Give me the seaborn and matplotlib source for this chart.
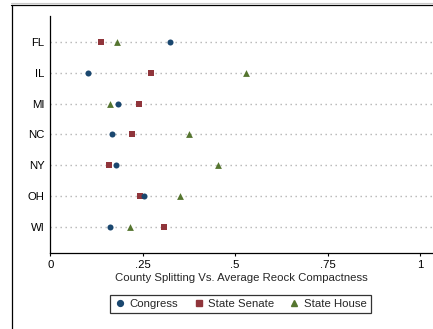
import matplotlib
matplotlib.use("Agg")
import matplotlib.pyplot as plt
from matplotlib.lines import Line2D
import pandas as pd
import seaborn as sns

states = ["FL", "IL", "MI", "NC", "NY", "OH", "WI"]
congress = [0.324, 0.101, 0.182, 0.166, 0.178, 0.253, 0.162]
state_senate = [0.136, 0.272, 0.240, 0.221, 0.159, 0.243, 0.307]
state_house = [0.180, 0.528, 0.162, 0.374, 0.454, 0.351, 0.215]

xticks = [0, 0.25, 0.5, 0.75, 1]
xtick_labels = ["0", ".25", ".5", ".75", "1"]

series = [
    ("State Senate", state_senate, "s", "#90353b", 20),
    ("State House", state_house, "^", "#55752f", 24),
    ("Congress", congress, "o", "#1a476f", 19),
]

sns.set_style("white")
plt.rcParams["font.family"] = ["Liberation Sans", "DejaVu Sans"]
FS = 8.2

fig = plt.figure(figsize=(4.33, 3.29), dpi=100)
ax = fig.add_axes([50.3 / 433, 75.7 / 329, (433 - 50.3) / 433, 237.6 / 329])

# dotted guide line for each state
for i in range(len(states)):
    ax.axhline(i, color="#b4b4b4", lw=1.0, ls=(0, (1, 2.6)), zorder=1)

for name, vals, mk, col, sz in series:
    df = pd.DataFrame({"state": states, "value": vals})
    sns.scatterplot(data=df, x="value", y=[states.index(s) for s in df["state"]],
                    marker=mk, color=col, s=sz, linewidth=0, ax=ax, zorder=3)

ax.set_xlim(0, (433 - 50.3) / 369.7)
ax.set_ylim(6.864, -0.855)
ax.set_yticks(range(len(states)))
ax.set_yticklabels(states)
ax.set_xticks(xticks)
ax.set_xticklabels(xtick_labels)
ax.tick_params(axis="y", length=0, pad=4, labelsize=FS, colors="black")
ax.tick_params(axis="x", length=2.5, width=0.8, pad=2, labelsize=FS,
               colors="black", bottom=True)
ax.set_xlabel("County Splitting Vs. Average Reock Compactness", fontsize=FS,
              labelpad=2.5)
ax.set_ylabel("")
for side in ["top", "right"]:
    ax.spines[side].set_visible(False)
for side in ["left", "bottom"]:
    ax.spines[side].set_color("black")
    ax.spines[side].set_linewidth(0.9)

handles = [
    Line2D([], [], ls="", marker="o", color="#1a476f", markersize=4.2, label="Congress"),
    Line2D([], [], ls="", marker="s", color="#90353b", markersize=4.4, label="State Senate"),
    Line2D([], [], ls="", marker="^", color="#55752f", markersize=4.8, label="State House"),
]
leg = fig.legend(handles=handles, ncol=3, loc="center",
                 bbox_to_anchor=(240.5 / 433, 1 - 304 / 329), fontsize=FS,
                 frameon=True, fancybox=False, edgecolor="black",
                 handletextpad=0.3, columnspacing=1.3, handlelength=1.0,
                 borderpad=0.38, borderaxespad=0)
leg.get_frame().set_linewidth(0.9)

# outer frame lines
fig.add_artist(Line2D([11 / 433, 1], [1 - 3 / 329, 1 - 3 / 329],
                      transform=fig.transFigure, color="#c8c8c8", lw=0.8))
fig.add_artist(Line2D([11 / 433, 1], [1 - 4.5 / 329, 1 - 4.5 / 329],
                      transform=fig.transFigure, color="black", lw=0.9))
fig.add_artist(Line2D([11.5 / 433, 11.5 / 433], [0, 1 - 4.5 / 329],
                      transform=fig.transFigure, color="black", lw=0.9))

fig.savefig("out.png", dpi=100)
